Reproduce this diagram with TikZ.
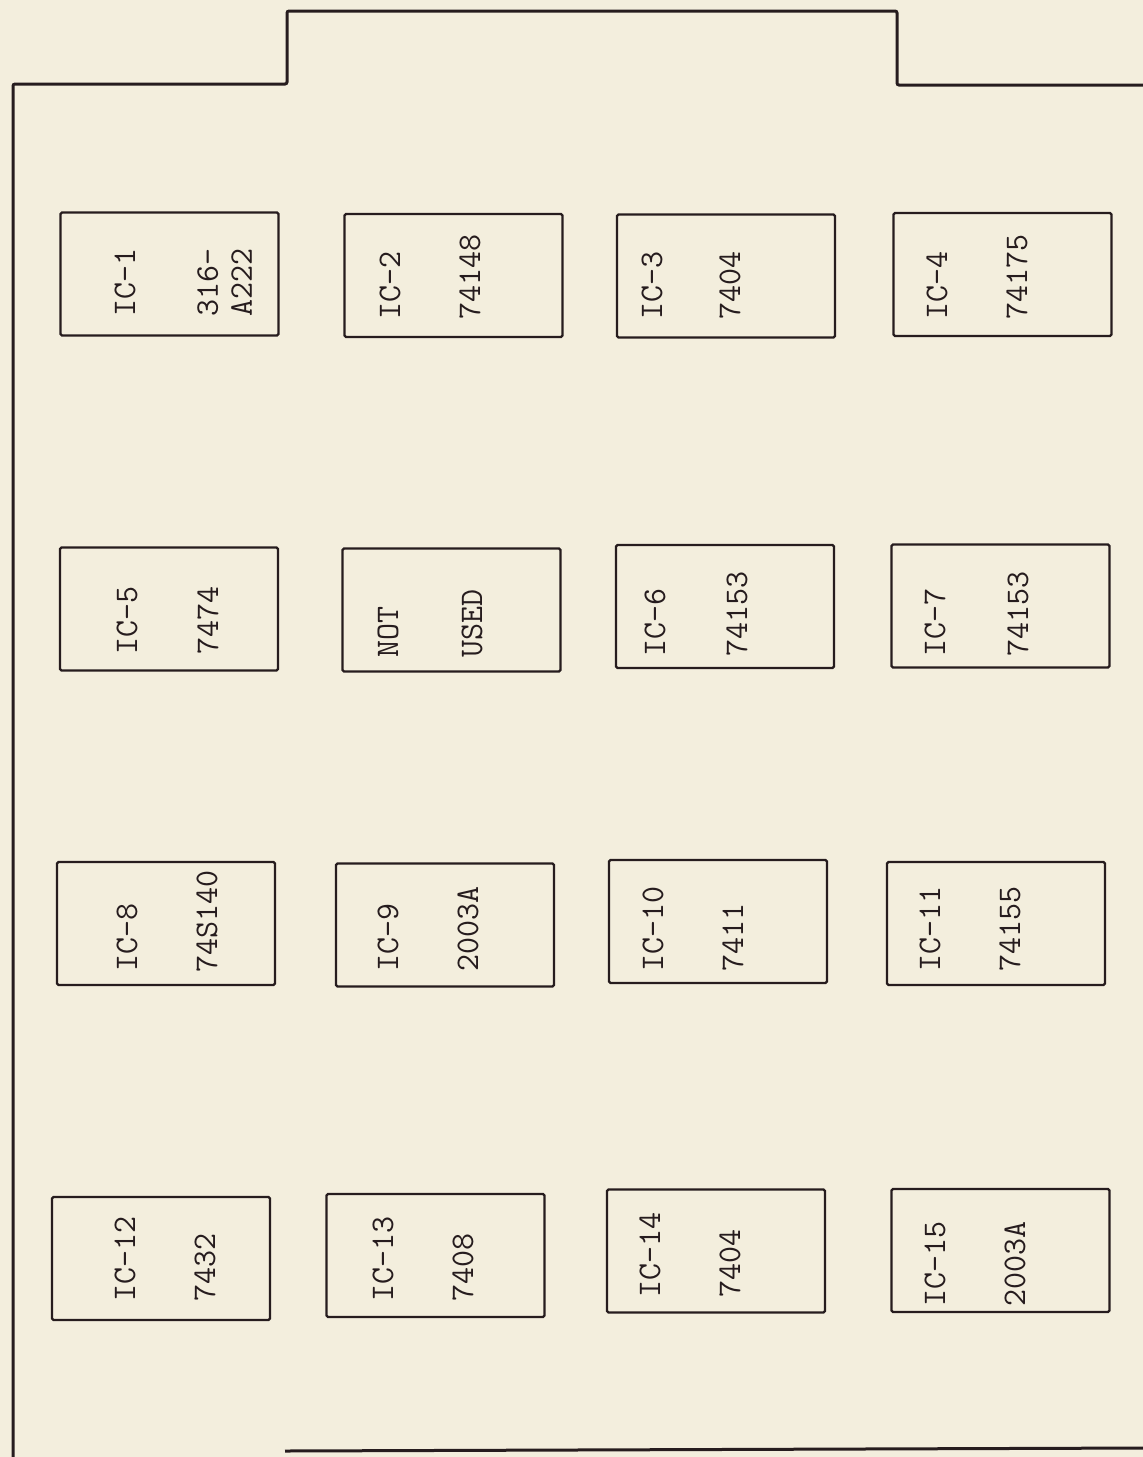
\documentclass[tikz,border=0pt]{standalone}
\usepackage{fontspec}
\definecolor{board}{RGB}{243,238,221}
\definecolor{ink}{RGB}{38,28,30}

\begin{document}
\begin{tikzpicture}[x=1pt,y=-1pt,
    outline/.style={draw=ink,line width=3pt,rounded corners=2pt},
    chip/.style={draw=ink,line width=2.4pt,rounded corners=1.5pt,
      minimum width=218pt,minimum height=123pt,inner sep=0pt},
    lbl/.style={rotate=90,inner sep=0pt,text=ink,
      font=\ttfamily\fontsize{33}{34}\selectfont},
    tag/.style={lbl,anchor=west,text height=20pt,text depth=0pt}]
  \useasboundingbox (0,0) rectangle (1143,1457);
  \fill[board] (0,0) rectangle (1143,1457);

  % board edge
  \draw[outline] (13,1462) -- (13,84) -- (287,84) -- (287,11) -- (897,11)
     -- (897,85) -- (1148,85);
  \draw[outline] (285,1451) -- (1148,1448);

  % row 1
  \node[chip] (ic1) at (169.5,274) {};
  \node[tag] (n1) at (125,317) {IC-1};
  \node[lbl,anchor=north west,align=left] (t1) at (197,317) {316-\\A222};
  \node[chip] (ic2) at (453.5,275.5) {};
  \node[tag] (n2) at (390,320) {IC-2};
  \node[tag] (t2) at (470,320) {74148};
  \node[chip] (ic3) at (726,276) {};
  \node[tag] (n3) at (652,320) {IC-3};
  \node[tag] (t3) at (730,320) {7404};
  \node[chip] (ic4) at (1002.5,274.5) {};
  \node[tag] (n4) at (937,320) {IC-4};
  \node[tag] (t4) at (1017,320) {74175};

  % row 2
  \node[chip] (ic5) at (169,609) {};
  \node[tag] (n5) at (127,655) {IC-5};
  \node[tag] (t5) at (208,655) {7474};
  \node[chip] (spare) at (451.5,610) {};
  \node[tag] (nspare) at (388,658) {NOT};
  \node[tag] (tspare) at (472,658) {USED};
  \node[chip] (ic6) at (725,606.5) {};
  \node[tag] (n6) at (655,657) {IC-6};
  \node[tag] (t6) at (737,657) {74153};
  \node[chip] (ic7) at (1000.5,606) {};
  \node[tag] (n7) at (935,657) {IC-7};
  \node[tag] (t7) at (1018,657) {74153};

  % row 3
  \node[chip] (ic8) at (166,923.5) {};
  \node[tag] (n8) at (127,972) {IC-8};
  \node[tag] (t8) at (207,973) {74S140};
  \node[chip] (ic9) at (445,925) {};
  \node[tag] (n9) at (388,972) {IC-9};
  \node[tag] (t9) at (468,972) {2003A};
  \node[chip] (ic10) at (718,921.5) {};
  \node[tag] (n10) at (653,972) {IC-10};
  \node[tag] (t10) at (733,972) {7411};
  \node[chip] (ic11) at (996,923.5) {};
  \node[tag] (n11) at (930,972) {IC-11};
  \node[tag] (t11) at (1010,972) {74155};

  % row 4
  \node[chip] (ic12) at (161,1258.5) {};
  \node[tag] (n12) at (125,1302) {IC-12};
  \node[tag] (t12) at (205,1302) {7432};
  \node[chip] (ic13) at (435.5,1255.5) {};
  \node[tag] (n13) at (383,1302) {IC-13};
  \node[tag] (t13) at (463,1302) {7408};
  \node[chip] (ic14) at (716,1251) {};
  \node[tag] (n14) at (650,1298) {IC-14};
  \node[tag] (t14) at (730,1298) {7404};
  \node[chip] (ic15) at (1000.5,1250.5) {};
  \node[tag] (n15) at (935,1307) {IC-15};
  \node[tag] (t15) at (1015,1307) {2003A};
\end{tikzpicture}
\end{document}
